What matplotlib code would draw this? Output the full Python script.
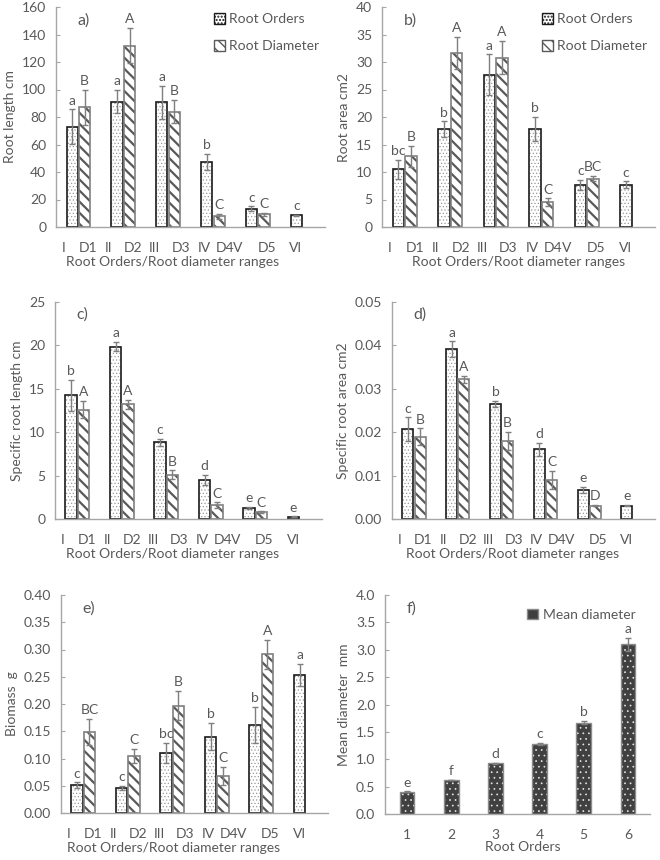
import numpy as np
import matplotlib
matplotlib.use('Agg')
import matplotlib.pyplot as plt
from matplotlib.patches import Patch
from matplotlib.ticker import FormatStrFormatter

plt.rcParams['font.family'] = ['Lato', 'DejaVu Sans']

TEXT = '#595959'
AXIS = '#a6a6a6'
FS = 10

order_labels = ['I', 'II', 'III', 'IV', 'V', 'VI']
diam_labels = ['D1', 'D2', 'D3', 'D4', 'D5']

# a) root length
length_order = [73, 91.2, 90.8, 47.2, 13.4, 8.5]
length_order_err = [12.6, 8.5, 12, 5.8, 1.6, 0.5]
length_order_sig = ['a', 'a', 'a', 'b', 'c', 'c']
length_diam = [87, 132, 84, 7.8, 9.2]
length_diam_err = [13, 12.7, 8.5, 1.9, 1.2]
length_diam_sig = ['B', 'A', 'B', 'C', 'C']

# b) root area
area_order = [10.5, 17.8, 27.7, 17.8, 7.6, 7.7]
area_order_err = [1.7, 1.4, 3.7, 2.2, 0.9, 0.6]
area_order_sig = ['bc', 'b', 'a', 'b', 'c', 'c']
area_diam = [12.9, 31.7, 30.8, 4.5, 8.8]
area_diam_err = [1.9, 2.9, 3.0, 0.7, 0.5]
area_diam_sig = ['B', 'A', 'A', 'C', 'BC']

# c) specific root length
srl_order = [14.25, 19.85, 8.85, 4.5, 1.26, 0.27]
srl_order_err = [1.75, 0.55, 0.4, 0.55, 0.1, 0.02]
srl_order_sig = ['b', 'a', 'c', 'd', 'e', 'e']
srl_diam = [12.6, 13.2, 5.1, 1.57, 0.77]
srl_diam_err = [1.0, 0.5, 0.5, 0.35, 0.1]
srl_diam_sig = ['A', 'A', 'B', 'C', 'C']

# d) specific root area
sra_order = [0.0207, 0.0391, 0.0265, 0.0161, 0.0067, 0.0031]
sra_order_err = [0.0027, 0.0018, 0.0008, 0.0015, 0.0007, 0.0001]
sra_order_sig = ['c', 'a', 'b', 'd', 'e', 'e']
sra_diam = [0.019, 0.0322, 0.018, 0.009, 0.0031]
sra_diam_err = [0.0019, 0.0008, 0.002, 0.002, 0.0001]
sra_diam_sig = ['B', 'A', 'B', 'C', 'D']

# e) biomass
bio_order = [0.0513, 0.0458, 0.1105, 0.14, 0.162, 0.253]
bio_order_err = [0.005, 0.004, 0.018, 0.025, 0.033, 0.02]
bio_order_sig = ['c', 'c', 'bc', 'b', 'b', 'a']
bio_diam = [0.148, 0.105, 0.197, 0.068, 0.291]
bio_diam_err = [0.024, 0.013, 0.027, 0.016, 0.026]
bio_diam_sig = ['BC', 'C', 'B', 'C', 'A']

# f) mean diameter
mean_orders = ['1', '2', '3', '4', '5', '6']
mean_diam = [0.41, 0.62, 0.925, 1.285, 1.67, 3.1]
mean_diam_err = [0.005, 0.005, 0.01, 0.02, 0.03, 0.12]
mean_diam_sig = ['e', 'f', 'd', 'c', 'b', 'a']

# label offsets from group centre, as laid out in the original
order_tick_off = [-0.33, -0.33, -0.30, -0.20, -0.44, -0.15]
diam_tick_off = [0.22, 0.23, 0.28, 0.27, 0.20]

W = 0.25
OFF = 0.14


def px_axes(fig, left, right, top, bottom):
    fw, fh = 660, 860
    return fig.add_axes([left / fw, (fh - bottom) / fh, (right - left) / fw, (bottom - top) / fh])


def style_axes(ax, ymax, step, fmt, ylabel, tag):
    for s in ['top', 'right']:
        ax.spines[s].set_visible(False)
    for s in ['left', 'bottom']:
        ax.spines[s].set_color(AXIS)
        ax.spines[s].set_linewidth(1)
    ax.set_ylim(0, ymax)
    ax.set_xlim(-0.5, 5.5)
    ax.set_yticks(np.arange(0, ymax + step / 2, step))
    ax.yaxis.set_major_formatter(FormatStrFormatter(fmt))
    ax.tick_params(axis='y', direction='in', length=3, color=AXIS, labelcolor=TEXT,
                   labelsize=FS, pad=7)
    ax.tick_params(axis='x', length=0, labelcolor=TEXT, labelsize=FS, pad=11)
    ax.set_ylabel(ylabel, color=TEXT, fontsize=FS)
    ax.text(0.08, 0.94, tag, transform=ax.transAxes, fontsize=11.5, color=TEXT,
            ha='left', va='center')


def hatched_bars(ax, x, vals, hatch, hatch_color, edge, face, lw_hatch):
    with plt.rc_context({'hatch.linewidth': lw_hatch}):
        bars = ax.bar(x, vals, W, color=face, edgecolor=hatch_color, hatch=hatch, linewidth=0)
        for b in bars:
            if hasattr(b, 'set_hatch_linewidth'):
                b.set_hatch_linewidth(lw_hatch)
    ax.bar(x, vals, W, fill=False, edgecolor=edge, linewidth=1.2)


def letters(ax, x, vals, err, sig):
    for xi, v, e, s in zip(x, vals, err, sig):
        ax.annotate(s, (xi, v + e), xytext=(0, 2), textcoords='offset points',
                    ha='center', va='bottom', color=TEXT, fontsize=FS)


def grouped_panel(ax, ov, oe, osig, dv, de, dsig, ymax, step, fmt, ylabel, tag, xlab_x, legend=False):
    xo = np.arange(len(ov)) - OFF
    xd = np.arange(len(dv)) + OFF
    hatched_bars(ax, xo, ov, '.....', '#9a9a9a', '#1a1a1a', 'white', 0.5)
    hatched_bars(ax, xd, dv, '\\\\\\', '#595959', '#808080', 'white', 1.6)
    ax.errorbar(xo, ov, yerr=oe, fmt='none', ecolor='#7f7f7f', elinewidth=1, capsize=2.5, capthick=1)
    ax.errorbar(xd, dv, yerr=de, fmt='none', ecolor='#7f7f7f', elinewidth=1, capsize=2.5, capthick=1)
    letters(ax, xo, ov, oe, osig)
    letters(ax, xd, dv, de, dsig)
    style_axes(ax, ymax, step, fmt, ylabel, tag)
    pos = [i + o for i, o in enumerate(order_tick_off)] + [i + o for i, o in enumerate(diam_tick_off)]
    ax.set_xticks(pos, order_labels + diam_labels)
    ax.set_xlabel('Root Orders/Root diameter ranges', color=TEXT, fontsize=FS)
    ax.xaxis.set_label_coords(xlab_x, -0.16)
    ax.xaxis.label.set_va('center')
    if legend:
        handles = [Patch(facecolor='white', edgecolor='#1a1a1a', hatch='.....', label='Root Orders'),
                   Patch(facecolor='white', edgecolor='#595959', hatch='\\\\\\', label='Root Diameter')]
        ax.legend(handles=handles, loc='upper left', bbox_to_anchor=(0.54, 1.03), frameon=False,
                  handlelength=0.8, handleheight=0.8, handletextpad=0.3, labelspacing=1.1,
                  fontsize=FS, labelcolor=TEXT)


fig = plt.figure(figsize=(6.6, 8.6), dpi=100)

ax_a = px_axes(fig, 56, 325, 7, 227)
grouped_panel(ax_a, length_order, length_order_err, length_order_sig,
              length_diam, length_diam_err, length_diam_sig,
              160, 20, '%d', 'Root length cm', 'a)', 0.435, legend=True)

ax_b = px_axes(fig, 382, 655, 7, 227)
grouped_panel(ax_b, area_order, area_order_err, area_order_sig,
              area_diam, area_diam_err, area_diam_sig,
              40, 5, '%d', 'Root area cm2', 'b)', 0.5, legend=True)

ax_c = px_axes(fig, 55, 322, 302, 519)
grouped_panel(ax_c, srl_order, srl_order_err, srl_order_sig,
              srl_diam, srl_diam_err, srl_diam_sig,
              25, 5, '%d', 'Specific root length cm', 'c)', 0.44)

ax_d = px_axes(fig, 392, 655, 302, 519)
grouped_panel(ax_d, sra_order, sra_order_err, sra_order_sig,
              sra_diam, sra_diam_err, sra_diam_sig,
              0.05, 0.01, '%.2f', 'Specific root area cm2', 'd)', 0.46)

ax_e = px_axes(fig, 61, 328, 595, 813)
grouped_panel(ax_e, bio_order, bio_order_err, bio_order_sig,
              bio_diam, bio_diam_err, bio_diam_sig,
              0.40, 0.05, '%.2f', 'Biomass  g', 'e)', 0.42)

# f) mean diameter per root order
ax_f = px_axes(fig, 385, 650, 595, 814)
xf = np.arange(len(mean_diam))
with plt.rc_context({'hatch.linewidth': 0.5}):
    fb = ax_f.bar(xf, mean_diam, 0.33, color='#404040', edgecolor='#e6e6e6', hatch='...', linewidth=0)
    for b in fb:
        if hasattr(b, 'set_hatch_linewidth'):
            b.set_hatch_linewidth(0.5)
ax_f.bar(xf, mean_diam, 0.33, fill=False, edgecolor='#8c8c8c', linewidth=1.0)
ax_f.errorbar(xf, mean_diam, yerr=mean_diam_err, fmt='none', ecolor='#7f7f7f',
              elinewidth=1, capsize=2.5, capthick=1)
letters(ax_f, xf, mean_diam, mean_diam_err, mean_diam_sig)
style_axes(ax_f, 4.0, 0.5, '%.1f', 'Mean diameter  mm', 'f)')
ax_f.set_xticks(xf, mean_orders)
ax_f.set_xlabel('Root Orders', color=TEXT, fontsize=FS)
ax_f.xaxis.set_label_coords(0.52, -0.15)
ax_f.xaxis.label.set_va('center')
ax_f.legend(handles=[Patch(facecolor='#404040', edgecolor='#8c8c8c', label='Mean diameter')],
            loc='upper left', bbox_to_anchor=(0.49, 0.995), frameon=False,
            handlelength=0.8, handleheight=0.8, handletextpad=0.3, fontsize=FS, labelcolor=TEXT)

fig.savefig('out.png', dpi=100)
